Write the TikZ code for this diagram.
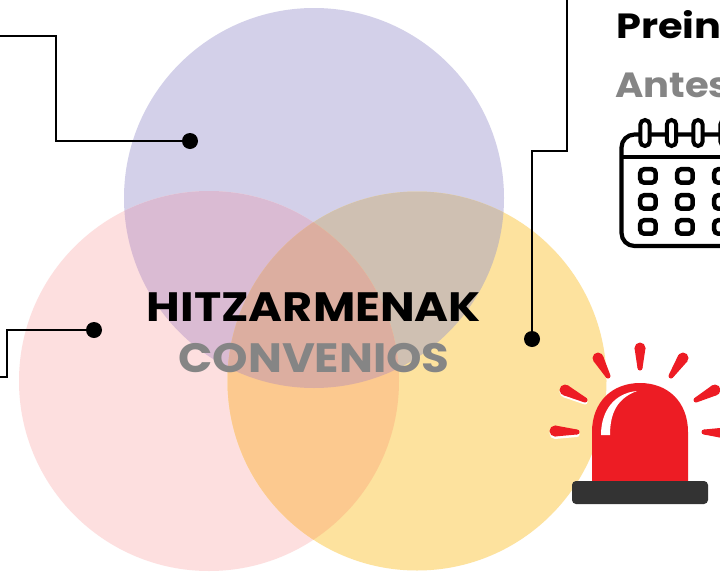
\documentclass[tikz,border=0pt]{standalone}
\usepackage{fontspec}
\usepackage{graphicx}
\usetikzlibrary{calc}
\setmainfont{Poppins}
\definecolor{cpurple}{HTML}{D3D0E9}
\definecolor{cpink}{HTML}{FDDFDF}
\definecolor{cyellow}{HTML}{FDE29E}
\definecolor{cpurplepink}{HTML}{DABBD3}
\definecolor{cpurpleyellow}{HTML}{CFC0B2}
\definecolor{cpinkyellow}{HTML}{FCC98F}
\definecolor{ccentre}{HTML}{DCAEA0}
\definecolor{tgray}{HTML}{858585}
\definecolor{sirenred}{HTML}{ED1C24}
\definecolor{sirenbase}{HTML}{333333}
\tikzset{
  x=1pt,y=-1pt,
  wire/.style={draw=black,line width=1.8pt,line join=miter},
  dotmark/.style={circle,fill=black,inner sep=0pt,minimum size=16pt},
  bigtitle/.style={inner sep=0pt,anchor=base,font=\bfseries\fontsize{41}{41}\selectfont},
  sidetitle/.style={inner sep=0pt,anchor=base west,font=\bfseries\fontsize{35}{35}\selectfont},
  calline/.style={draw=black,line width=4.2pt},
  calbox/.style={draw=black,line width=4.5pt,rounded corners=4pt},
}
\newcommand{\sirenray}[5][sirenred]{%
  \coordinate (ra) at (#2,#3);\coordinate (rb) at (#4,#5);
  \fill[#1] (ra) circle (5.5pt) (rb) circle (2.5pt);
  \fill[#1] ($(ra)!5.5pt!90:(rb)$) -- ($(rb)!2.5pt!-90:(ra)$) -- ($(rb)!2.5pt!90:(ra)$) -- ($(ra)!5.5pt!-90:(rb)$) -- cycle;}
\newcommand{\calsq}[2]{\draw[calbox] (#1+2.2,#2+2.2) rectangle ++(15.5,13.5);}
\newcommand{\calring}[1]{\draw[draw=black,line width=4pt,fill=white,rounded corners=4.7pt] (#1-4.7,120) rectangle (#1+4.7,146);}
\begin{document}
\begin{tikzpicture}
\clip (0,0) rectangle (720,573);
\fill[white] (0,0) rectangle (720,573);
\coordinate (cA) at (314,198);
\coordinate (cB) at (209,381);
\coordinate (cC) at (417,381);
\def\rr{190pt}
\def\ry{189.5pt}
\fill[cpurple] (cA) circle (\rr);
\fill[cpink] (cB) circle (\rr);
\fill[cyellow] (cC) circle (\ry);
\begin{scope}\clip (cA) circle (\rr);\fill[cpurplepink] (cB) circle (\rr);\end{scope}
\begin{scope}\clip (cA) circle (\rr);\fill[cpurpleyellow] (cC) circle (\ry);\end{scope}
\begin{scope}\clip (cB) circle (\rr);\fill[cpinkyellow] (cC) circle (\ry);\end{scope}
\begin{scope}\clip (cA) circle (\rr);\clip (cB) circle (\rr);\fill[ccentre] (cC) circle (\ry);\end{scope}
% connectors
\node[dotmark] (d1) at (190,141) {};
\node[dotmark] (d2) at (94,330) {};
\node[dotmark] (d3) at (532,339) {};
\coordinate (e1) at (-2,36);
\coordinate (e2) at (-2,377);
\coordinate (e3) at (567,-2);
\draw[wire] (e1) -- (56,36) -- (56,141) -- (d1.center);
\draw[wire] (e2) -- (7,377) -- (7,330) -- (d2.center);
\draw[wire] (e3) -- (567,151) -- (532,151) -- (d3.center);
% titles
\node[bigtitle,text=black] (t1) at (314,321) {\scalebox{1.125}[1]{HITZARMENAK}};
\node[bigtitle,text=tgray] (t2) at (314,372) {\scalebox{1.10}[1]{CONVENIOS}};
\node[sidetitle,text=black] (t3) at (616,38) {\scalebox{1.14}[1]{Prein}};
\node[sidetitle,text=tgray] (t4) at (615,97) {\scalebox{1.1}[1]{Antes}};
% calendar
\draw[calline,rounded corners=13pt] (621.5,134.5) rectangle (780,246);
\draw[calline] (621.5,157) -- (780,157);
\calring{645}\calring{671.5}\calring{698}\calring{725}
\foreach \cx/\cy in {638/167,675/167,712/167,638/193,675/193,712/193,638/218,675/218,712/218}{\calsq{\cx}{\cy}}
% siren
\sirenray[white]{555}{433.5}{577}{434.5}
\sirenray[white]{565}{392}{585}{402}
\sirenray{640}{348}{640}{368}
\sirenray{598}{358}{608}{376}
\sirenray{683}{358}{671}{376}
\sirenray{565}{390}{585}{400}
\sirenray{715}{390}{696}{400}
\sirenray{555}{431}{577}{432}
\sirenray{725}{433}{704}{432}
\fill[sirenred] (592,482) -- (592,432) .. controls (592,402) and (612,383) .. (640,383) .. controls (668,383) and (688,402) .. (688,432) -- (688,482) -- cycle;
\fill[white] (637,391) .. controls (615,393) and (601,410) .. (601,435) -- (610,435) .. controls (610,412) and (618,398) .. (637,391) -- cycle;
\fill[sirenbase,rounded corners=4pt] (572,481) rectangle (708,504);
\end{tikzpicture}
\end{document}
